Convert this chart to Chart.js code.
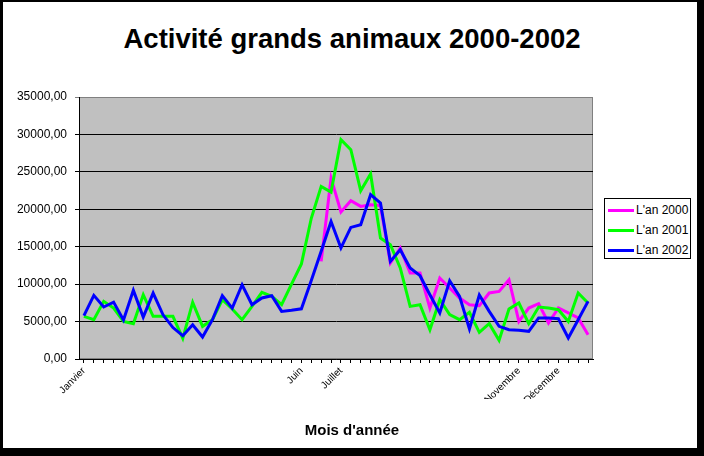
<!DOCTYPE html>
<html lang="fr">
<head>
    <meta charset="UTF-8">
    <title>Activité grands animaux 2000-2002</title>
    <style>
        body {
            margin: 0;
            width: 704px;
            height: 456px;
            background-color: #000;
            font-family: Arial, "Liberation Sans", sans-serif;
            position: relative;
            overflow: hidden;
        }
        .frame {
            position: absolute;
            left: 3px;
            top: 2px;
            width: 694px;
            height: 446px;
            background-color: #fff;
        }
        .title {
            position: absolute;
            left: 0;
            top: 23px;
            width: 704px;
            text-align: center;
            font-weight: bold;
            font-size: 27.5px;
            line-height: 32px;
            color: #000;
        }
        .x-title {
            position: absolute;
            left: 0;
            top: 421px;
            width: 704px;
            text-align: center;
            font-weight: bold;
            font-size: 15px;
            line-height: 18px;
            color: #000;
        }
        .chart-container {
            position: absolute;
            left: 0;
            top: 0;
            width: 704px;
            height: 456px;
        }
        .legend {
            position: absolute;
            left: 604px;
            top: 198px;
            width: 85px;
            height: 58px;
            border: 1px solid #000;
            background-color: #fff;
            padding-top: 1px;
        }
        .legend div {
            height: 20px;
            line-height: 20px;
            font-size: 12px;
            color: #000;
            white-space: nowrap;
        }
        .legend span {
            display: inline-block;
            width: 26px;
            height: 3px;
            margin: 0 2px 0 3px;
            vertical-align: middle;
        }
    </style>
    <script src="https://cdn.jsdelivr.net/npm/chart.js"></script>
</head>
<body>
    <div class="frame"></div>
    <div class="title">Activité grands animaux 2000-2002</div>
    <div class="chart-container">
        <canvas id="activityChart"></canvas>
    </div>
    <div class="x-title">Mois d'année</div>
    <div class="legend" id="legendBox"></div>

    <script>
        // one label per week, only the month starts are written
        var weekLabels = [
            'Janvier', '', '', '', '', '', '', '', '', '',
            '', '', '', '', '', '', '', '', '', '',
            '', '', 'Juin', '', '', '', 'Juillet', '', '', '',
            '', '', '', '', '', '', '', '', '', '',
            '', '', '', '', 'Novembre', '', '', '', 'Décembre', '',
            '', ''
        ];

        var an2000 = [
            null, null, null, null, null, null, null, null, null, null,
            null, null, null, null, null, null, null, null, null, null,
            null, null, null, null, 13040, 24180, 19640, 21150, 20390, 20610,
            20520, 12830, 14830, 11490, 11490, 6810, 10820, 9490, 8150, 7250,
            7120, 8820, 9030, 10590, 5020, 6810, 7390, 4810, 6810, 6150,
            5480, 3250
        ];

        var an2001 = [
            5700, 5250, 7700, 6810, 5020, 4720, 8590, 5700, 5700, 5700,
            2750, 7560, 4360, 5250, 7920, 6680, 5250, 7030, 8900, 8360,
            7250, 10000, 12700, 18800, 23060, 22300, 29300, 27960, 22480, 24720,
            16160, 15270, 12160, 7030, 7250, 3910, 7920, 5920, 5250, 6230,
            3560, 4720, 2490, 6680, 7480, 4720, 6950, 6810, 6590, 5020,
            8820, 7480
        ];

        var an2002 = [
            5785, 8500, 6950, 7600, 5200, 9170, 5600, 8800, 5900, 4200,
            3110, 4580, 2940, 5250, 8460, 6800, 9920, 7250, 8150, 8460,
            6360, 6500, 6700, 10500, 14400, 18380, 14830, 17580, 17940, 21950,
            20840, 13040, 14600, 12160, 11130, 8590, 6150, 10460, 8360, 4010,
            8550, 6360, 4360, 3910, 3830, 3700, 5480, 5480, 5380, 2800,
            5250, 7700
        ];

        var seriesNames = ["L'an 2000", "L'an 2001", "L'an 2002"];
        var seriesColors = ['#ff00ff', '#00ff00', '#0000ff'];
        var yTicks = [0, 5000, 10000, 15000, 20000, 25000, 30000, 35000];

        // grey plot area with its thin border
        var plotBackground = {
            id: 'plotBackground',
            beforeDraw: function(chart) {
                var ctx = chart.ctx;
                var a = chart.chartArea;
                ctx.save();
                ctx.fillStyle = '#c0c0c0';
                ctx.fillRect(a.left, a.top, a.right - a.left, a.bottom - a.top);
                ctx.strokeStyle = '#808080';
                ctx.lineWidth = 1;
                ctx.strokeRect(a.left + 0.5, a.top + 0.5, a.right - a.left - 1, a.bottom - a.top - 1);
                ctx.restore();
            }
        };

        function buildLegend() {
            var box = document.getElementById('legendBox');
            for (var i = 0; i < seriesNames.length; i++) {
                var row = document.createElement('div');
                var swatch = document.createElement('span');
                swatch.style.backgroundColor = seriesColors[i];
                row.appendChild(swatch);
                row.appendChild(document.createTextNode(seriesNames[i]));
                box.appendChild(row);
            }
        }

        function drawChart() {
            var ctx = document.getElementById('activityChart').getContext('2d');
            var seriesData = [an2000, an2001, an2002];
            var datasets = seriesData.map(function(d, i) {
                return {
                    label: seriesNames[i],
                    data: d,
                    borderColor: seriesColors[i],
                    backgroundColor: seriesColors[i],
                    borderWidth: 3,
                    pointRadius: 0,
                    tension: 0,
                    fill: false,
                    order: seriesData.length - i
                };
            });

            new Chart(ctx, {
                type: 'line',
                data: { labels: weekLabels, datasets: datasets },
                options: {
                    responsive: true,
                    maintainAspectRatio: false,
                    animation: false,
                    layout: { padding: { left: 0, top: 97, right: 111, bottom: 57 } },
                    plugins: {
                        legend: { display: false },
                        tooltip: { enabled: false }
                    },
                    scales: {
                        x: {
                            offset: true,
                            afterFit: function(scale) { scale.height = 40; },
                            grid: {
                                drawOnChartArea: false,
                                drawTicks: true,
                                tickLength: 4,
                                color: '#000'
                            },
                            border: { display: true, color: '#000', width: 1 },
                            ticks: {
                                autoSkip: false,
                                maxRotation: 45,
                                minRotation: 45,
                                padding: 2,
                                color: '#000',
                                font: { family: 'Arial', size: 10 }
                            }
                        },
                        y: {
                            min: yTicks[0],
                            max: yTicks[yTicks.length - 1],
                            afterFit: function(scale) { scale.width = 79; },
                            afterBuildTicks: function(scale) {
                                scale.ticks = yTicks.map(function(v) { return { value: v }; });
                            },
                            grid: {
                                drawTicks: true,
                                tickLength: 4,
                                color: function(c) {
                                    return c.tick && c.tick.value === 35000 ? '#808080' : '#000';
                                },
                                lineWidth: 1
                            },
                            border: { display: true, color: '#000', width: 1 },
                            ticks: {
                                padding: 8,
                                color: '#000',
                                font: { family: 'Arial', size: 12 },
                                callback: function(v) { return Number(v).toFixed(2).replace('.', ','); }
                            }
                        }
                    }
                },
                plugins: [plotBackground]
            });
        }

        document.addEventListener('DOMContentLoaded', function() {
            buildLegend();
            drawChart();
        });
    </script>
</body>
</html>
